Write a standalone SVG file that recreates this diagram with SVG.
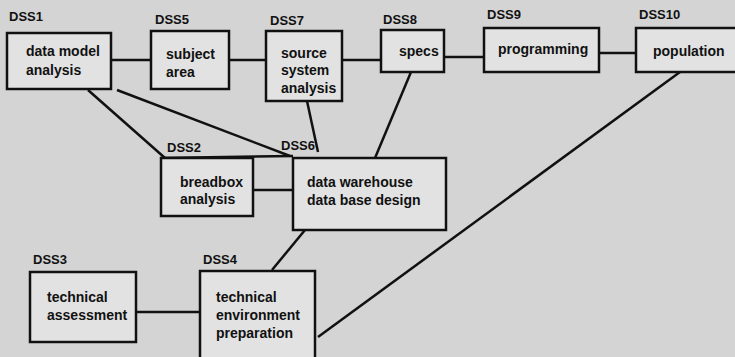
<svg xmlns="http://www.w3.org/2000/svg" width="735" height="357" viewBox="0 0 735 357">
<style>
.bg{fill:#d4d4d4}
.box{fill:#e2e2e2;stroke:#111;stroke-width:2.5}
.lbl{font-family:"Liberation Sans",Arial,sans-serif;font-weight:bold;font-size:13px;fill:#111}
.t{font-family:"Liberation Sans",Arial,sans-serif;font-weight:bold;font-size:14px;fill:#111}
.c{stroke:#111;stroke-width:2.5;fill:none}
</style>
<rect class="bg" x="0" y="0" width="735" height="357"/>
<g id="connectors">
<line class="c" x1="111" y1="60" x2="151" y2="60"/>
<line class="c" x1="229" y1="60" x2="266" y2="60"/>
<line class="c" x1="342" y1="60" x2="381" y2="60"/>
<line class="c" x1="444" y1="57" x2="484" y2="57"/>
<line class="c" x1="599" y1="53" x2="636" y2="53"/>
<line class="c" x1="88" y1="90" x2="165" y2="158"/>
<line class="c" x1="117" y1="90" x2="290" y2="156"/>
<line class="c" x1="307" y1="101" x2="318" y2="152"/>
<line class="c" x1="411" y1="72" x2="375" y2="158"/>
<line class="c" x1="253" y1="190" x2="293" y2="190"/>
<line class="c" x1="305" y1="230" x2="272" y2="270"/>
<line class="c" x1="136" y1="312" x2="200" y2="312"/>
<line class="c" x1="680" y1="72" x2="318" y2="337"/>
<line class="c" x1="161" y1="158" x2="293" y2="156"/>
</g>
<g id="DSS1">
<rect class="box" x="7" y="33" width="104" height="56"/>
<text class="lbl" x="9" y="21">DSS1</text>
<text class="t" x="26" y="56">data model</text>
<text class="t" x="26" y="75">analysis</text>
</g>
<g id="DSS5">
<rect class="box" x="151" y="31" width="78" height="58"/>
<text class="lbl" x="155" y="24">DSS5</text>
<text class="t" x="166" y="59">subject</text>
<text class="t" x="166" y="77">area</text>
</g>
<g id="DSS7">
<rect class="box" x="266" y="31" width="76" height="70"/>
<text class="lbl" x="270" y="25">DSS7</text>
<text class="t" x="281" y="58">source</text>
<text class="t" x="281" y="75">system</text>
<text class="t" x="281" y="93">analysis</text>
</g>
<g id="DSS8">
<rect class="box" x="381" y="30" width="63" height="42"/>
<text class="lbl" x="383" y="24">DSS8</text>
<text class="t" x="399" y="56">specs</text>
</g>
<g id="DSS9">
<rect class="box" x="484" y="28" width="115" height="44"/>
<text class="lbl" x="487" y="19">DSS9</text>
<text class="t" x="498" y="54">programming</text>
</g>
<g id="DSS10">
<rect class="box" x="636" y="28" width="104" height="44"/>
<text class="lbl" x="639" y="19">DSS10</text>
<text class="t" x="653" y="56">population</text>
</g>
<g id="DSS2">
<rect class="box" x="161" y="158" width="92" height="58"/>
<text class="lbl" x="167" y="152">DSS2</text>
<text class="t" x="180" y="187">breadbox</text>
<text class="t" x="180" y="204">analysis</text>
</g>
<g id="DSS6">
<rect class="box" x="293" y="158" width="153" height="72"/>
<text class="lbl" x="281" y="150">DSS6</text>
<text class="t" x="307" y="187">data warehouse</text>
<text class="t" x="307" y="205">data base design</text>
</g>
<g id="DSS3">
<rect class="box" x="30" y="272" width="106" height="70"/>
<text class="lbl" x="33" y="264">DSS3</text>
<text class="t" x="47" y="302">technical</text>
<text class="t" x="47" y="320">assessment</text>
</g>
<g id="DSS4">
<rect class="box" x="200" y="271" width="115" height="90"/>
<text class="lbl" x="203" y="264">DSS4</text>
<text class="t" x="216" y="302">technical</text>
<text class="t" x="216" y="320">environment</text>
<text class="t" x="216" y="338">preparation</text>
</g>
</svg>
